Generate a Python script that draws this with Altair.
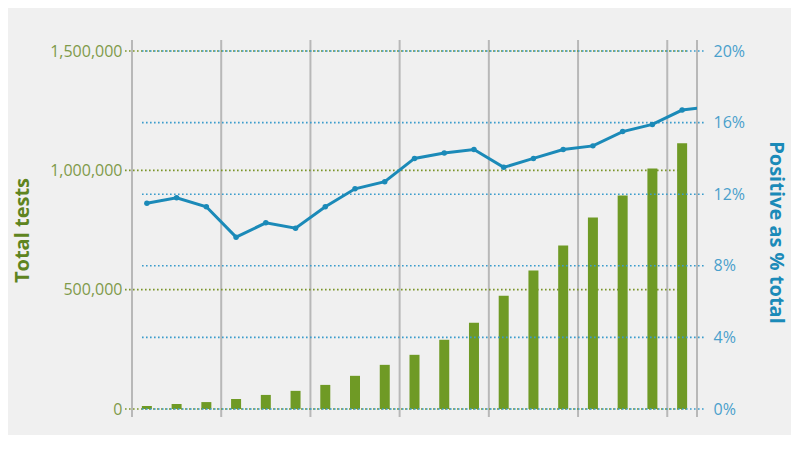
import altair as alt
import pandas as pd

# data
tests = [12600, 21000, 29000, 42000, 59000, 76000, 101000, 139000, 185000, 227000,
         290000, 361000, 475000, 580000, 685000, 802000, 895000, 1008000, 1113000]
positive_pct = [11.5, 11.8, 11.3, 9.6, 10.4, 10.1, 11.3, 12.3, 12.7, 14.0,
                14.3, 14.5, 13.5, 14.0, 14.5, 14.7, 15.5, 15.9, 16.7, 16.9]
tests_ticks = [0, 500000, 1000000, 1500000]
pct_ticks = [0, 4, 8, 12, 16, 20]
separators = [0, 3, 6, 9, 12, 15, 18, 19]

W, H = 565, 358
BG = "#f0f0f0"
GREEN = "#6f9a25"
GREEN_LABEL = "#7f9a4a"
GREEN_TITLE = "#5e8420"
BLUE = "#1b8ab8"
BLUE_LABEL = "#4aa0cc"
GRAY = "#b8b8b8"
FONT = "Open Sans"

bars_df = pd.DataFrame({"pos": [i + 0.5 for i in range(len(tests))], "tests": tests})
line_df = pd.DataFrame({"pos": [i + 0.5 for i in range(len(positive_pct))], "pct": positive_pct})
pts_df = line_df.iloc[: len(tests)]
gt_df = pd.DataFrame({"v": tests_ticks})
gp_df = pd.DataFrame({"v": pct_ticks})
sep_df = pd.DataFrame({"s": separators})

xscale = alt.Scale(domain=[0, 19], nice=False, zero=False, padding=0)
xenc = alt.X("pos:Q", scale=xscale, axis=None)
yt_scale = alt.Scale(domain=[0, 1500000], nice=False, padding=0)
yp_scale = alt.Scale(domain=[0, 20], nice=False, padding=0)

left_axis = alt.Axis(
    values=tests_ticks, format=",d", grid=False, domain=False, ticks=False,
    labelFont=FONT, labelFontSize=16, labelColor=GREEN_LABEL, labelPadding=10,
    title="Total tests", titleFont=FONT, titleFontSize=20, titleFontWeight="bold",
    titleColor=GREEN_TITLE, titleAngle=270, titleX=-110, titleY=179,
    titleAlign="center", titleBaseline="middle",
)
right_axis = alt.Axis(
    values=pct_ticks, labelExpr="datum.value + '%'", grid=False, domain=False, ticks=False,
    labelFont=FONT, labelFontSize=16, labelColor=BLUE_LABEL, labelPadding=16,
    title="Positive as % total", titleFont=FONT, titleFontSize=20, titleFontWeight="bold",
    titleColor=BLUE, titleAngle=90, titleX=78, titleY=181,
    titleAlign="center", titleBaseline="middle", orient="right",
)

seps = alt.Chart(sep_df).mark_rule(color=GRAY, strokeWidth=2).encode(
    x=alt.X("s:Q", scale=xscale, axis=None),
    y=alt.value(-11), y2=alt.value(H + 8),
)

green_grid = alt.Chart(gt_df).mark_rule(color="#7a9428", strokeWidth=1.6, strokeDash=[1.6, 2.4]).encode(
    y=alt.Y("v:Q", scale=yt_scale, axis=left_axis),
    x=alt.value(-7), x2=alt.value(556),
)
bars = alt.Chart(bars_df).mark_bar(color=GREEN, size=10).encode(
    x=xenc,
    y=alt.Y("tests:Q", scale=yt_scale, axis=left_axis),
)

blue_grid = alt.Chart(gp_df).mark_rule(color="#3a9ccc", strokeWidth=1.6, strokeDash=[1.6, 2.4]).encode(
    y=alt.Y("v:Q", scale=yp_scale, axis=right_axis),
    x=alt.value(10), x2=alt.value(573),
)
line = alt.Chart(line_df).mark_line(color=BLUE, strokeWidth=3, clip=True).encode(
    x=xenc,
    y=alt.Y("pct:Q", scale=yp_scale, axis=right_axis),
)
pts = alt.Chart(pts_df).mark_point(color=BLUE, filled=True, size=30, opacity=1).encode(
    x=xenc,
    y=alt.Y("pct:Q", scale=yp_scale, axis=right_axis),
)

left_layer = alt.layer(seps, green_grid, bars)
right_layer = alt.layer(blue_grid, line, pts)

chart = alt.layer(left_layer, right_layer).resolve_scale(y="independent").properties(
    width=W, height=H,
    background=BG,
    autosize=alt.AutoSizeParams(type="none"),
    padding={"left": 124, "top": 43, "right": 94, "bottom": 26},
).configure_view(stroke=None)

chart.save("out.html", embed_options={"renderer": "svg", "actions": False})
